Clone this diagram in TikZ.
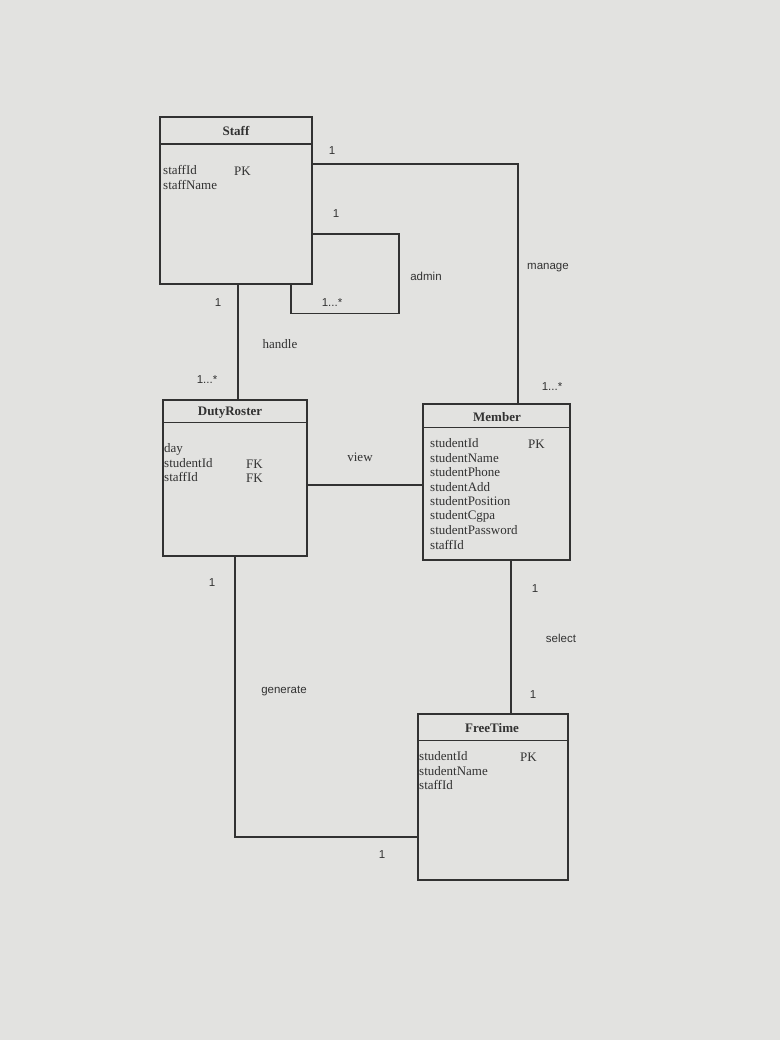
\documentclass[tikz,border=0pt]{standalone}
\usepackage{fontspec}
\setmainfont{Liberation Serif}
\newfontfamily\labfont{Liberation Sans}
\definecolor{paper}{RGB}{226,226,224}
\definecolor{ink}{RGB}{50,50,50}
\begin{document}
\begin{tikzpicture}[x=1pt,y=-1pt,
  entity/.style={draw=ink,line width=1.5pt,rectangle,inner sep=0pt},
  title/.style={font=\fontsize{13}{14}\selectfont\bfseries,text=ink,inner sep=0pt},
  attr/.style={font=\fontsize{13}{14}\selectfont,text=ink,anchor=west,inner sep=0pt},
  lab/.style={font=\labfont\fontsize{11.5}{13}\selectfont,text=ink,inner sep=0pt},
  slab/.style={font=\fontsize{13}{14}\selectfont,text=ink,inner sep=0pt},
  conn/.style={draw=ink,line width=1.5pt}]
\fill[paper] (0,0) rectangle (780,1040);
\useasboundingbox (0,0) rectangle (780,1040);

% entities
\node[entity,minimum width=152pt,minimum height=167pt] (staff) at (236,200.5) {};
\node[entity,minimum width=144pt,minimum height=156pt] (duty) at (235,478) {};
\node[entity,minimum width=147pt,minimum height=156pt] (member) at (496.5,482) {};
\node[entity,minimum width=150pt,minimum height=166pt] (free) at (493,797) {};

% header dividers
\draw[conn] ([yshift=-28pt]staff.north west) -- ([yshift=-28pt]staff.north east);
\draw[conn] ([yshift=-23pt]duty.north west) -- ([yshift=-23pt]duty.north east);
\draw[conn] ([yshift=-24pt]member.north west) -- ([yshift=-24pt]member.north east);
\draw[conn] ([yshift=-27pt]free.north west) -- ([yshift=-27pt]free.north east);

% titles
\node[title] (tstaff) at (236,131) {Staff};
\node[title] (tduty) at (230,413) {DutyRoster};
\node[title] (tmember) at (497,417) {Member};
\node[title] (tfree) at (492,728) {FreeTime};

% Staff attributes
\node[attr] (s1) at (163,170) {staffId};
\node[attr] (s2) at (163,185) {staffName};
\node[attr] (spk) at (234,171) {PK};

% DutyRoster attributes
\node[attr] (d1) at (164,449) {day};
\node[attr] (d2) at (164,463) {studentId};
\node[attr] (d3) at (164,477) {staffId};
\node[attr] (dfk1) at (246,464) {FK};
\node[attr] (dfk2) at (246,478) {FK};

% Member attributes
\node[attr] (m1) at (430,443) {studentId};
\node[attr] (m2) at (430,458) {studentName};
\node[attr] (m3) at (430,472) {studentPhone};
\node[attr] (m4) at (430,487) {studentAdd};
\node[attr] (m5) at (430,501) {studentPosition};
\node[attr] (m6) at (430,516) {studentCgpa};
\node[attr] (m7) at (430,530) {studentPassword};
\node[attr] (m8) at (430,545) {staffId};
\node[attr] (mpk) at (528,444) {PK};

% FreeTime attributes
\node[attr] (f1) at (419,756) {studentId};
\node[attr] (f2) at (419,771) {studentName};
\node[attr] (f3) at (419,785) {staffId};
\node[attr] (fpk) at (520,757) {PK};

% connector anchor points
\coordinate (mg1) at ([yshift=-48pt]staff.north east);
\coordinate (mg2) at ([xshift=21.5pt]member.north);
\coordinate (ad1) at ([yshift=-118pt]staff.north east);
\coordinate (ad2) at ([xshift=55pt]staff.south);
\coordinate (hd1) at ([xshift=2pt]staff.south);
\coordinate (vw1) at ([yshift=-7pt]duty.east);
\coordinate (se1) at ([xshift=14.5pt]member.south);
\coordinate (ge1) at ([xshift=0pt]duty.south);
\coordinate (ge2) at ([yshift=-40pt]free.west);

% connectors
\draw[conn] (mg1) -| (mg2);
\draw[conn] (ad1) -- ++(86,0) -- ++(0,79) -| (ad2);
\draw[conn] (hd1) -- (hd1 |- duty.north);
\draw[conn] (vw1) -- (vw1 -| member.west);
\draw[conn] (se1) -- (se1 |- free.north);
\draw[conn] (ge1) |- (ge2);

% labels
\node[lab] (l1) at (332,151) {1};
\node[lab] (l2) at (548,268) {manage};
\node[lab] (l3) at (552,387) {1...*};
\node[lab] (l4) at (336,214) {1};
\node[lab] (l5) at (426,276) {admin};
\node[lab] (l6) at (332,303) {1...*};
\node[lab] (l7) at (218,303) {1};
\node[slab] (l8) at (280,344) {handle};
\node[lab] (l9) at (207,380) {1...*};
\node[slab] (l10) at (360,457) {view};
\node[lab] (l11) at (535,589) {1};
\node[lab] (l12) at (561,638) {select};
\node[lab] (l13) at (533,695) {1};
\node[lab] (l14) at (212,583) {1};
\node[lab] (l15) at (284,691) {generate};
\node[lab] (l16) at (382,855) {1};
\end{tikzpicture}
\end{document}
